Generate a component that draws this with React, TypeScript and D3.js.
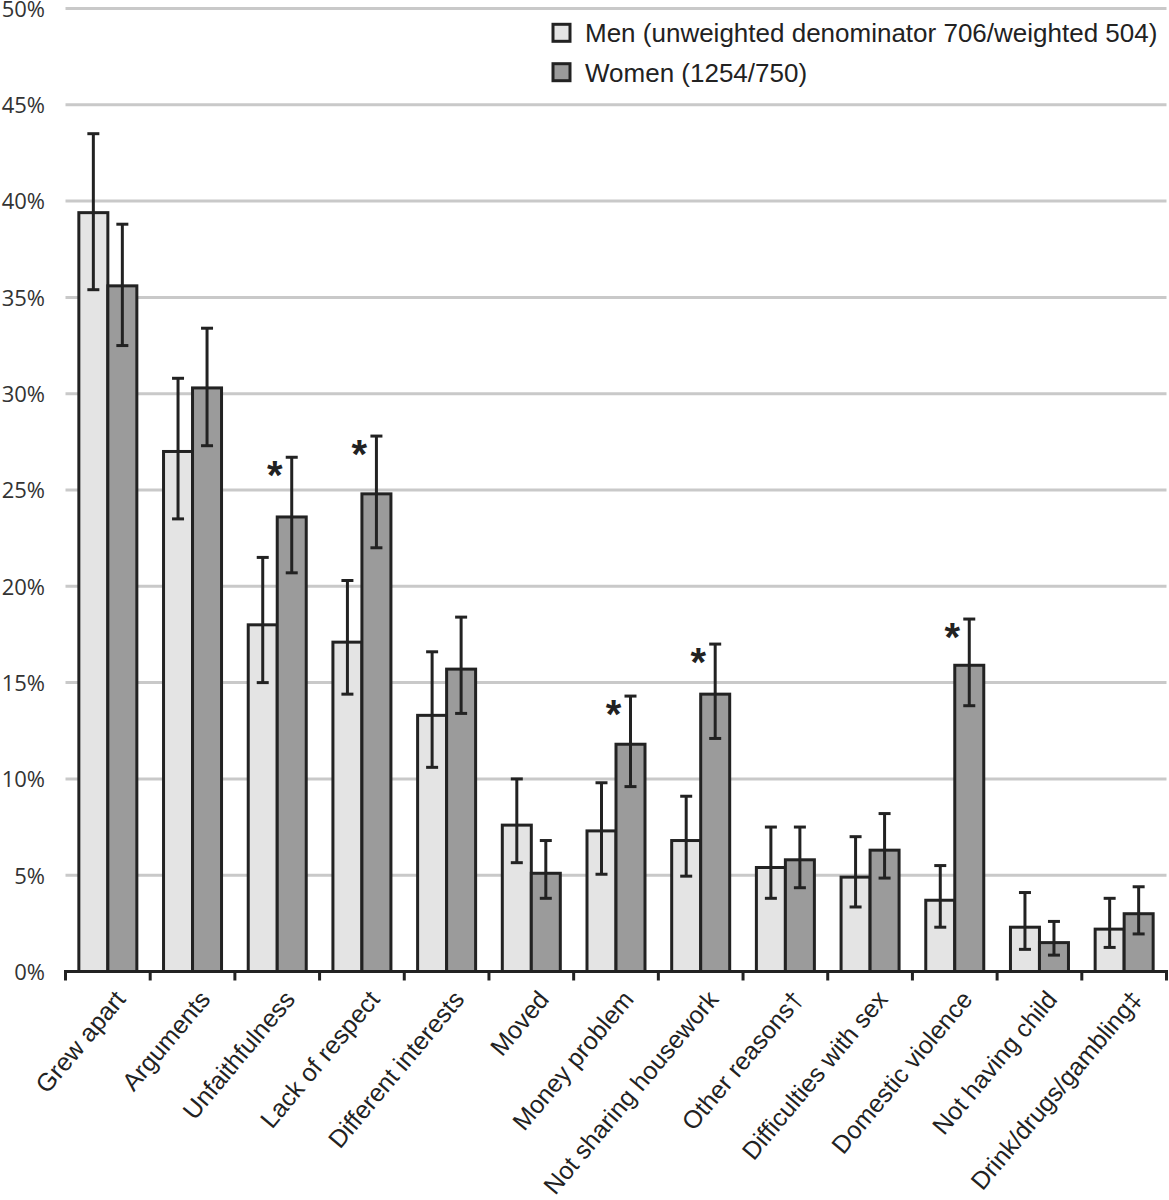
import React from "react";
import * as d3 from "d3";

const categories = [
  "Grew apart",
  "Arguments",
  "Unfaithfulness",
  "Lack of respect",
  "Different interests",
  "Moved",
  "Money problem",
  "Not sharing housework",
  "Other reasons†",
  "Difficulties with sex",
  "Domestic violence",
  "Not having child",
  "Drink/drugs/gambling‡",
];

const menValues = [39.4, 27.0, 18.0, 17.1, 13.3, 7.6, 7.3, 6.8, 5.4, 4.9, 3.7, 2.3, 2.2];
const menLow = [35.4, 23.5, 15.0, 14.4, 10.6, 5.65, 5.05, 4.95, 3.8, 3.35, 2.3, 1.15, 1.25];
const menHigh = [43.5, 30.8, 21.5, 20.3, 16.6, 10.0, 9.8, 9.1, 7.5, 7.0, 5.5, 4.1, 3.8];

const womenValues = [35.6, 30.3, 23.6, 24.8, 15.7, 5.1, 11.8, 14.4, 5.8, 6.3, 15.9, 1.5, 3.0];
const womenLow = [32.5, 27.3, 20.7, 22.0, 13.4, 3.8, 9.6, 12.1, 4.35, 4.85, 13.8, 0.85, 1.95];
const womenHigh = [38.8, 33.4, 26.7, 27.8, 18.4, 6.8, 14.3, 17.0, 7.5, 8.2, 18.3, 2.6, 4.4];

const significant = [false, false, true, true, false, false, true, true, false, false, true, false, false];

const yTicks = [0, 5, 10, 15, 20, 25, 30, 35, 40, 45, 50];

const legendLabels = [
  "Men (unweighted denominator 706/weighted 504)",
  "Women (1254/750)",
];

const W = 1169;
const H = 1200;
const left = 65.5;
const right = 1166.5;
const top = 8.5;
const bottom = 971.5;

const MEN_FILL = "#e4e4e4";
const WOMEN_FILL = "#9b9b9b";
const INK = "#222222";
const GRID = "#c9c9c9";
const SANS = "'Liberation Sans', Arial, sans-serif";

export default function App() {
  const x = d3.scaleBand<string>().domain(categories).range([left, right]).paddingInner(0).paddingOuter(0);
  const y = d3.scaleLinear().domain([0, 50]).range([bottom, top]);
  const bw = x.bandwidth();
  const barW = 29;
  const sub = d3.scaleBand<string>().domain(["men", "women"]).range([bw / 2 - barW, bw / 2 + barW]);
  const capW = 12;

  const series = [
    { key: "men", values: menValues, low: menLow, high: menHigh, fill: MEN_FILL },
    { key: "women", values: womenValues, low: womenLow, high: womenHigh, fill: WOMEN_FILL },
  ];

  return (
    <svg width={W} height={H} style={{ position: "absolute", left: 0, top: 0, background: "#fff" }}>
      <rect x={0} y={0} width={W} height={H} fill="#fff" />
      {/* grid */}
      {yTicks.filter((t) => t > 0).map((t) => (
        <line key={t} x1={left} x2={right} y1={y(t)} y2={y(t)} stroke={GRID} strokeWidth={3} />
      ))}
      {/* y tick labels */}
      {yTicks.map((t) => (
        <text
          key={t}
          x={45}
          y={y(t) + 8.3}
          textAnchor="end"
          fontFamily="'Open Sans', sans-serif"
          fontSize={22}
          fill="#333"
        >
          {t}%
        </text>
      ))}
      {/* bars */}
      {categories.map((c, i) => (
        <g key={c} transform={`translate(${x(c)},0)`}>
          {series.map((s) => {
            const bx = sub(s.key)!;
            const cx = bx + barW / 2;
            return (
              <g key={s.key}>
                <rect
                  x={bx}
                  y={y(s.values[i])}
                  width={barW}
                  height={y(0) - y(s.values[i])}
                  fill={s.fill}
                  stroke={INK}
                  strokeWidth={3}
                />
                <line x1={cx} x2={cx} y1={y(s.low[i])} y2={y(s.high[i])} stroke={INK} strokeWidth={3} />
                <line x1={cx - capW / 2} x2={cx + capW / 2} y1={y(s.high[i])} y2={y(s.high[i])} stroke={INK} strokeWidth={3} />
                <line x1={cx - capW / 2} x2={cx + capW / 2} y1={y(s.low[i])} y2={y(s.low[i])} stroke={INK} strokeWidth={3} />
              </g>
            );
          })}
          {significant[i] && (
            <text
              x={sub("women")! + barW / 2 - 17}
              y={y(womenHigh[i]) + 9 + 23}
              textAnchor="middle"
              fontFamily={SANS}
              fontWeight="bold"
              fontSize={40}
              fill={INK}
            >
              *
            </text>
          )}
        </g>
      ))}
      {/* x axis */}
      <line x1={left - 1.5} x2={right + 1.5} y1={y(0)} y2={y(0)} stroke={INK} strokeWidth={3} />
      {d3.range(categories.length + 1).map((k) => {
        const tx = left + k * bw;
        return <line key={k} x1={tx} x2={tx} y1={y(0)} y2={y(0) + 9} stroke={INK} strokeWidth={3} />;
      })}
      {categories.map((c) => {
        const ax = x(c)! + bw / 2 + 19;
        const ay = 1000;
        return (
          <text
            key={c}
            transform={`translate(${ax},${ay}) rotate(-50)`}
            textAnchor="end"
            fontFamily={SANS}
            fontSize={25}
            fill="#222"
          >
            {c}
          </text>
        );
      })}
      {/* legend */}
      {legendLabels.map((l, i) => {
        const base = 42.3 + i * 39.4;
        return (
          <g key={l}>
            <rect
              x={553}
              y={base - 18}
              width={17}
              height={17}
              fill={i === 0 ? MEN_FILL : WOMEN_FILL}
              stroke={INK}
              strokeWidth={3}
            />
            <text x={585} y={base} fontFamily={SANS} fontSize={26} fill="#222">
              {l}
            </text>
          </g>
        );
      })}
    </svg>
  );
}
